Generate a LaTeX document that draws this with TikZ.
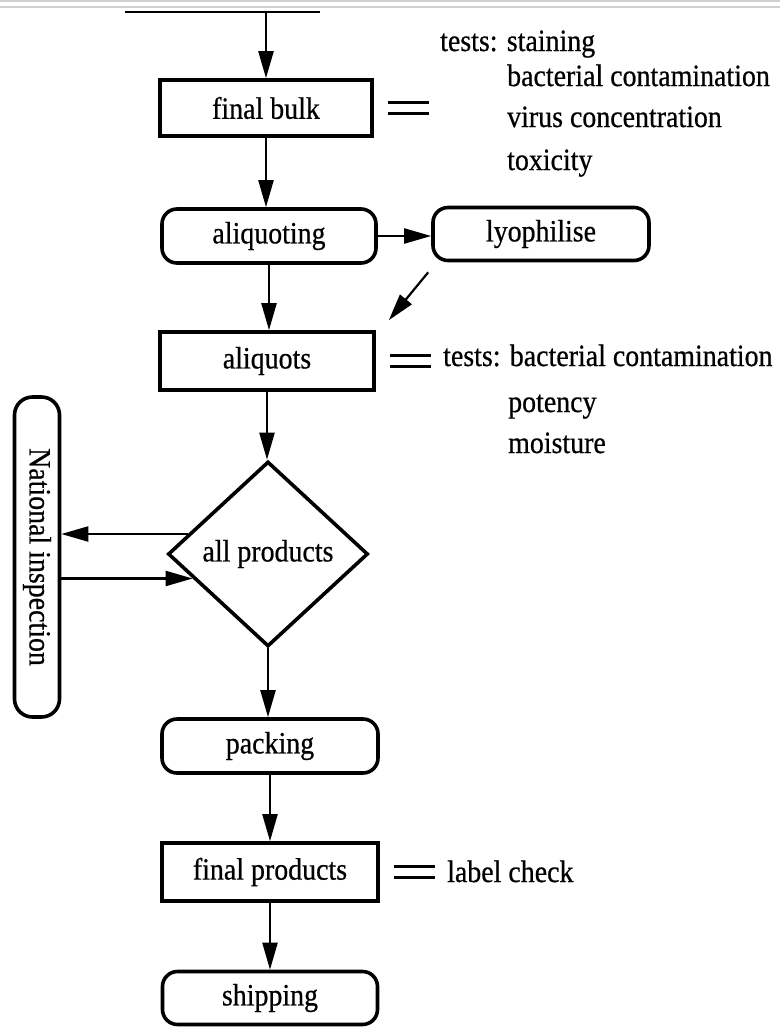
\documentclass[tikz,border=0pt]{standalone}
\usepackage{fontspec}
\setmainfont{Liberation Serif}[FakeStretch=0.9,FakeBold=0.6]
\usetikzlibrary{arrows.meta,shapes.geometric,calc}
\begin{document}
\begin{tikzpicture}[x=1pt,y=-1pt,
  font=\fontsize{31}{36}\selectfont,
  arr/.style={line width=2.2pt,-{Triangle[length=27pt,width=15pt]}},
  box/.style={draw,line width=3.6pt,minimum width=212pt,minimum height=56pt,inner sep=0pt},
  rbox/.style={box,rounded corners=15pt},
  eq/.style={line width=3.4pt},
  txt/.style={anchor=base west,inner sep=0pt},
  rule/.style={draw=black!18,line width=2pt}]
\useasboundingbox (0,0) rectangle (780,1029);

% faint page rules along the top edge
\draw[rule] (0,1) -- (780,1);
\draw[rule] (0,7) -- (780,7);

% process steps
\node[box] (fb) at (266,108) {final bulk};
\node[rbox,minimum width=214pt,minimum height=54pt] (al) at (269,236) {aliquoting};
\node[rbox,minimum width=216pt,minimum height=53pt] (ly) at (541,234) {lyophilise};
\node[box,minimum width=214pt,minimum height=58pt] (aq) at (267,361) {aliquots};
\node[draw,diamond,line width=3.6pt,minimum width=200pt,minimum height=185pt,inner sep=0pt] (ap) at (268,554) {all products};
\node[rbox,rotate=-90,minimum width=320pt,minimum height=45pt,rounded corners=18pt] (ni) at (37,557) {National inspection};
\node[rbox,minimum width=216pt,minimum height=54pt] (pk) at (270,746) {packing};
\node[box,minimum width=216pt,minimum height=58pt] (fp) at (270,872) {final products};
\node[rbox,minimum width=215pt,minimum height=53pt] (sh) at (270,998) {shipping};

% incoming line from the previous stage
\coordinate (tl) at (125,12);
\coordinate (tr) at (320,12);
\draw[line width=2.6pt] (tl) -- (tr);

% flow
\draw[arr] (fb.north |- tl) -- (fb.north);
\draw[arr] (fb.south) -- (fb.south |- al.north);
\draw[arr] (al.east) -- (al.east -| ly.west);
\coordinate (d1) at ($(ly.south west)+(-3,10)$);
\coordinate (d2) at ($(aq.north east)+(13,-10)$);
\draw[arr] (d1) -- (d2);
\draw[arr] (al.south) -- (al.south |- aq.north);
\draw[arr] (aq.south) -- (aq.south |- ap.north);
\draw[arr] (ap.166) -- (ap.166 -| ni.north);
\draw[arr] (ap.198 -| ni.north) -- (ap.198);
\draw[arr] (ap.south) -- (ap.south |- pk.north);
\draw[arr] (pk.south) -- (pk.south |- fp.north);
\draw[arr] (fp.south) -- (fp.south |- sh.north);

% equals marks linking items to their checks
\foreach \n in {fb,aq,fp}{
  \draw[eq] ($(\n.east)+(14,-5.5)$) -- ++(41,0);
  \draw[eq] ($(\n.east)+(14,5.5)$) -- ++(41,0);
}

% quality checks
\node[txt] (c1) at (440,51) {tests: staining};
\node[txt] (c2) at (507,86) {bacterial contamination};
\node[txt] (c3) at (507,127) {virus concentration};
\node[txt] (c4) at (507,170) {toxicity};
\node[txt] (c5) at (443,366) {tests: bacterial contamination};
\node[txt] (c6) at (508,412) {potency};
\node[txt] (c7) at (508,453) {moisture};
\node[txt] (c8) at (447,882) {label check};
\end{tikzpicture}
\end{document}
